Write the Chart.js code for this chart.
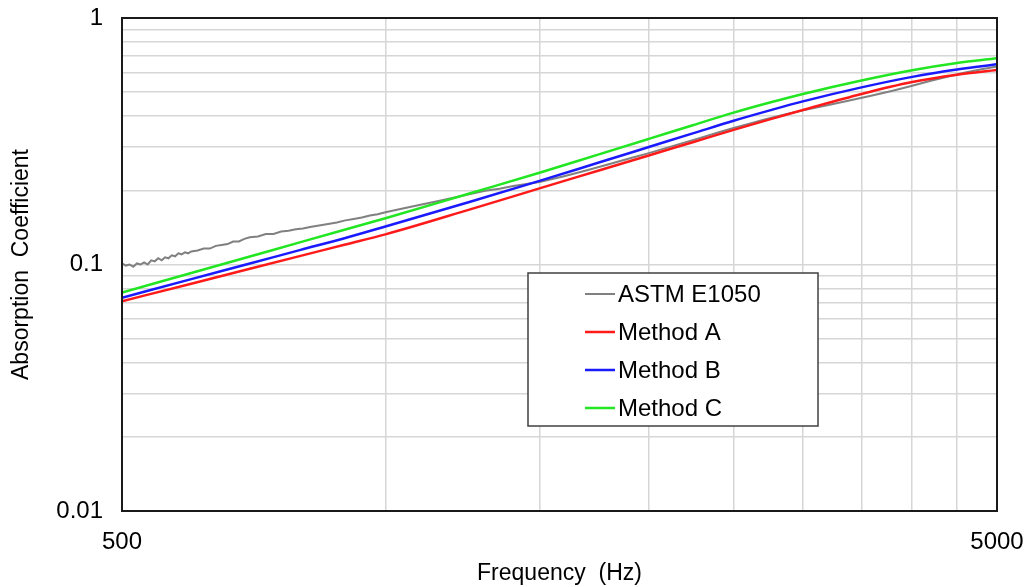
<!DOCTYPE html>
<html>
<head>
<meta charset="utf-8">
<script src="https://cdn.jsdelivr.net/npm/chart.js@4.4.1/dist/chart.umd.min.js"></script>
<style>
  html, body { margin: 0; padding: 0; background: #ffffff; }
  #wrap { width: 1030px; height: 587px; }
</style>
</head>
<body>
<div id="wrap"><canvas id="c" width="1030" height="587"></canvas></div>
<script>
// ---------- DATA ----------
const seriesNames = ['ASTM E1050', 'Method A', 'Method B', 'Method C'];

const greyFreq = [500,505,510,515,520,525,530,535,540,545,550,555,560,565,570,575,580,585,590,595,
  600,610,620,630,640,650,660,670,680,690,700,715,730,745,760,775,790,805,820,840,860,880,900,920,940,960,980,
  1000,1050,1100,1150,1200,1250,1300,1350,1400,1450,1500,1600,1700,1800,1900,2000,2100,2200,2300,2400,2500,
  2600,2700,2800,2900,3000,3200,3400,3600,3800,4000,4200,4400,4600,4800,5000];
const astmValues = [0.101,0.099,0.100,0.098,0.101,0.100,0.102,0.100,0.104,0.103,0.106,0.104,0.107,0.106,0.109,0.108,0.111,0.110,0.112,0.111,
  0.113,0.114,0.116,0.116,0.119,0.120,0.121,0.124,0.124,0.127,0.129,0.130,0.133,0.133,0.136,0.137,0.139,0.140,0.142,0.144,0.146,0.148,0.151,0.153,0.155,0.158,0.160,
  0.163,0.169,0.175,0.181,0.187,0.193,0.199,0.203,0.208,0.212,0.216,0.228,0.241,0.255,0.269,0.283,0.298,0.313,0.328,0.343,0.358,
  0.372,0.386,0.399,0.411,0.422,0.443,0.464,0.485,0.507,0.531,0.556,0.579,0.601,0.620,0.636];

const methodFreq = [500,600,700,800,900,1000,1250,1500,1750,2000,2250,2500,2750,3000,3500,4000,4500,5000];
const methodAValues = [0.071,0.0836,0.0961,0.1084,0.1205,0.1325,0.1674,0.2036,0.2401,0.277,0.3142,0.3517,0.388,0.4233,0.492,0.550,0.589,0.615];
const methodBValues = [0.0733,0.0872,0.1009,0.1146,0.1281,0.1426,0.1798,0.2183,0.2587,0.2996,0.341,0.383,0.422,0.459,0.523,0.577,0.618,0.649];
const methodCValues = [0.077,0.0924,0.1078,0.1232,0.1386,0.154,0.1945,0.2355,0.279,0.3232,0.368,0.413,0.454,0.492,0.558,0.614,0.657,0.687];

const xTickValues = [500,1000,1500,2000,2500,3000,3500,4000,4500,5000];
const xLabelValues = [500, 5000];
const xLabelTexts = ['500', '5000'];
const yTickValues = [0.01,0.02,0.03,0.04,0.05,0.06,0.07,0.08,0.09,0.1,0.2,0.3,0.4,0.5,0.6,0.7,0.8,0.9,1];
const yLabelValues = [0.01, 0.1, 1];
const yLabelTexts = ['0.01', '0.1', '1'];

const xTitle = 'Frequency  (Hz)';
const yTitle = 'Absorption  Coefficient';

// ---------- BUILD ----------
function pts(xs, ys) { return xs.map((x, i) => ({ x: x, y: ys[i] })); }

const FONT = "'Liberation Sans', Arial, sans-serif";

const boxPlugin = {
  id: 'boxPlugin',
  afterDatasetsDraw(chart) {
    const a = chart.chartArea, ctx = chart.ctx;
    ctx.save();
    ctx.strokeStyle = '#1a1a1a';
    ctx.lineWidth = 2;
    ctx.strokeRect(a.left, a.top, a.right - a.left, a.bottom - a.top);
    ctx.restore();
  }
};

const legendPlugin = {
  id: 'innerLegend',
  afterDraw(chart) {
    const ctx = chart.ctx;
    const bx = 528, by = 273, bw = 290, bh = 153;
    ctx.save();
    ctx.fillStyle = '#ffffff';
    ctx.fillRect(bx, by, bw, bh);
    ctx.strokeStyle = '#404040';
    ctx.lineWidth = 1.5;
    ctx.strokeRect(bx, by, bw, bh);
    ctx.font = '24px ' + FONT;
    ctx.textBaseline = 'middle';
    ctx.textAlign = 'left';
    chart.data.datasets.forEach((ds, i) => {
      const cy = 294 + i * 38;
      ctx.strokeStyle = ds.borderColor;
      ctx.lineWidth = ds.borderWidth;
      ctx.beginPath();
      ctx.moveTo(585, cy);
      ctx.lineTo(615, cy);
      ctx.stroke();
      ctx.fillStyle = '#000000';
      ctx.fillText(ds.label, 618, cy + 1);
    });
    ctx.restore();
  }
};

new Chart(document.getElementById('c'), {
  type: 'line',
  data: {
    datasets: [
      { label: seriesNames[0], data: pts(greyFreq, astmValues), borderColor: '#808080', borderWidth: 2, pointRadius: 0, tension: 0, order: 4 },
      { label: seriesNames[1], data: pts(methodFreq, methodAValues), borderColor: '#ff1a1a', borderWidth: 2.5, pointRadius: 0, cubicInterpolationMode: 'monotone', order: 3 },
      { label: seriesNames[2], data: pts(methodFreq, methodBValues), borderColor: '#1a1aff', borderWidth: 2.5, pointRadius: 0, cubicInterpolationMode: 'monotone', order: 2 },
      { label: seriesNames[3], data: pts(methodFreq, methodCValues), borderColor: '#22e622', borderWidth: 2.5, pointRadius: 0, cubicInterpolationMode: 'monotone', order: 1 }
    ]
  },
  options: {
    responsive: false,
    animation: false,
    devicePixelRatio: 1,
    layout: { padding: { left: 0, right: 33, top: 18, bottom: 0 } },
    plugins: { legend: { display: false }, tooltip: { enabled: false } },
    scales: {
      x: {
        type: 'logarithmic',
        min: 500, max: 5000,
        afterBuildTicks: (s) => { s.ticks = xTickValues.map(v => ({ value: v })); },
        afterFit: (s) => { s.height = 76; s.paddingLeft = 0; s.paddingRight = 0; },
        ticks: {
          autoSkip: false, maxRotation: 0, minRotation: 0, padding: 17,
          color: '#000', font: { family: FONT, size: 24 },
          callback: (v) => { const i = xLabelValues.indexOf(v); return i >= 0 ? xLabelTexts[i] : ''; }
        },
        grid: { color: '#d6d6d6', lineWidth: 1.5, drawTicks: false },
        border: { display: false },
        title: { display: true, text: xTitle, color: '#000', font: { family: FONT, size: 23 }, padding: { top: 0, bottom: 0 } }
      },
      y: {
        type: 'logarithmic',
        min: 0.01, max: 1,
        afterBuildTicks: (s) => { s.ticks = yTickValues.map(v => ({ value: v })); },
        afterFit: (s) => { s.width = 122; s.paddingTop = 0; s.paddingBottom = 0; },
        ticks: {
          autoSkip: false, padding: 19,
          color: '#000', font: { family: FONT, size: 24 },
          callback: (v) => { const i = yLabelValues.indexOf(v); return i >= 0 ? yLabelTexts[i] : ''; }
        },
        grid: { color: '#d6d6d6', lineWidth: 1.5, drawTicks: false },
        border: { display: false },
        title: { display: true, text: yTitle, color: '#000', font: { family: FONT, size: 23 }, padding: { top: 8, bottom: 0 } }
      }
    }
  },
  plugins: [boxPlugin, legendPlugin]
});
</script>
</body>
</html>
